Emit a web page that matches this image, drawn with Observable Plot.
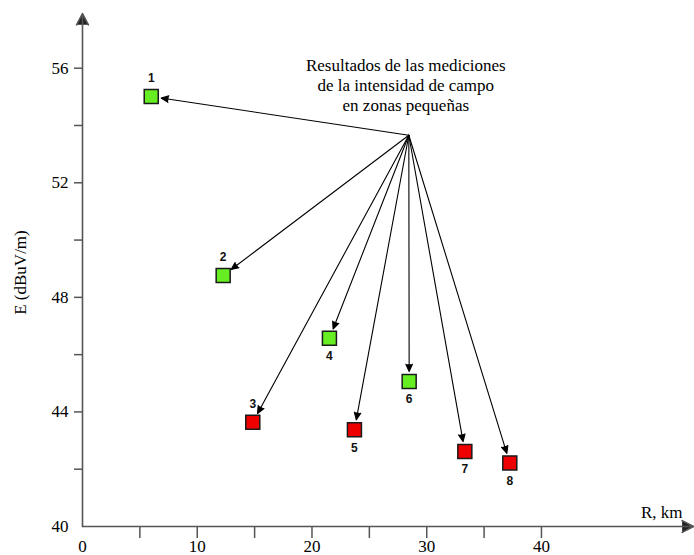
<!DOCTYPE html>
<html><head><meta charset="utf-8">
<script src="https://cdn.jsdelivr.net/npm/d3@7"></script>
<script src="https://cdn.jsdelivr.net/npm/@observablehq/plot@0.6"></script>
<style>body{margin:0;background:#fff} #chart svg{display:block}</style>
</head><body><div id="chart"></div>
<script>
// ---- data ----
const pointIds = ["1", "2", "3", "4", "5", "6", "7", "8"];
const distanceKm = [5.99, 12.26, 14.84, 21.52, 23.70, 28.47, 33.32, 37.24];
const fieldStrength = [55.01, 48.76, 43.64, 46.57, 43.38, 45.06, 42.62, 42.22];
const resultClass = ["pass", "pass", "fail", "pass", "fail", "pass", "fail", "fail"];
const labelSide = ["above", "above", "above", "below", "below", "below", "below", "below"];
const sourceKm = [28.44];
const sourceField = [53.66];
const noteLines = ["Resultados de las mediciones", "de la intensidad de campo", "en zonas pequeñas"];
const xTickValues = [5, 10, 15, 20, 25, 30, 35, 40];
const yTickValues = [42, 44, 46, 48, 50, 52, 54, 56];
const xDomain = [0, 53.25];
const yDomain = [40, 57.91];
const xTitle = "R, km";
const yTitle = "E (dBuV/m)";

// ---- tables built from the arrays ----
const points = pointIds.map((id, i) => ({id, r: distanceKm[i], e: fieldStrength[i], cls: resultClass[i], side: labelSide[i]}));
const links = points.map(p => ({x1: sourceKm[0], y1: sourceField[0], x2: p.r, y2: p.e}));
const axesLines = [
  {x1: xDomain[0], y1: yDomain[0], x2: xDomain[0], y2: yDomain[1]},
  {x1: xDomain[0], y1: yDomain[0], x2: xDomain[1], y2: yDomain[0]}
];
const note = [{x: sourceKm[0], y: sourceField[0], text: noteLines.join("\n")}];

const serif = "'Liberation Serif', 'Times New Roman', Times, serif";
const serifText = {fontFamily: serif, fontSize: 17, fill: "#000"};
const labelFont = {fontFamily: "'Liberation Sans', Arial, sans-serif", fontWeight: "bold", fontSize: 12, fill: "#111"};

const chart = Plot.plot({
  width: 694, height: 555,
  marginLeft: 82, marginRight: 1, marginTop: 13, marginBottom: 29,
  style: {fontFamily: serif, fontSize: "17px", background: "#fff", color: "#000"},
  x: {domain: xDomain},
  y: {domain: yDomain},
  color: {domain: ["pass", "fail"], range: ["#66ee22", "#ee0000"]},
  marks: [
    Plot.axisX({ticks: xTickValues, tickSize: 12, tickPadding: 1, tickFormat: d => d % 10 === 0 ? String(d) : "", stroke: "#555", strokeWidth: 1.5, label: null, ...serifText}),
    Plot.axisX({ticks: [0], tickSize: 0, tickPadding: 13, tickFormat: d => String(d), label: null, ...serifText}),
    Plot.axisY({ticks: yTickValues, tickSize: 8, tickPadding: 6, tickFormat: d => d % 4 === 0 ? String(d) : "", stroke: "#555", strokeWidth: 1.5, label: null, ...serifText}),
    Plot.axisY({ticks: [40], tickSize: 0, tickPadding: 14, tickFormat: d => String(d), label: null, ...serifText}),
    Plot.arrow(axesLines, {x1: "x1", y1: "y1", x2: "x2", y2: "y2", stroke: "#555", fill: "#222", strokeWidth: 1.6, headLength: 12, headAngle: 55}),
    Plot.arrow(links, {x1: "x1", y1: "y1", x2: "x2", y2: "y2", stroke: "#000", fill: "#000", strokeWidth: 1.1, headLength: 11, headAngle: 48, insetEnd: 10}),
    Plot.dot(points, {x: "r", y: "e", symbol: "square", r: 7.9, fill: "cls", stroke: "#1a1a1a", strokeWidth: 1.5}),
    Plot.text(points.filter(p => p.side === "above"), {x: "r", y: "e", text: "id", dy: -18, ...labelFont}),
    Plot.text(points.filter(p => p.side === "below"), {x: "r", y: "e", text: "id", dy: 18, ...labelFont}),
    Plot.text(note, {x: "x", y: "y", text: "text", dx: -3, dy: -51, lineHeight: 1.18, ...serifText}),
    Plot.text([xTitle], {frameAnchor: "bottom-right", textAnchor: "end", lineAnchor: "middle", dx: -11, dy: -13.5, ...serifText}),
    Plot.text([yTitle], {frameAnchor: "left", rotate: -90, textAnchor: "middle", lineAnchor: "middle", dx: -62, dy: 2.5, ...serifText})
  ]
});
document.getElementById("chart").append(chart);
</script>
</body></html>
